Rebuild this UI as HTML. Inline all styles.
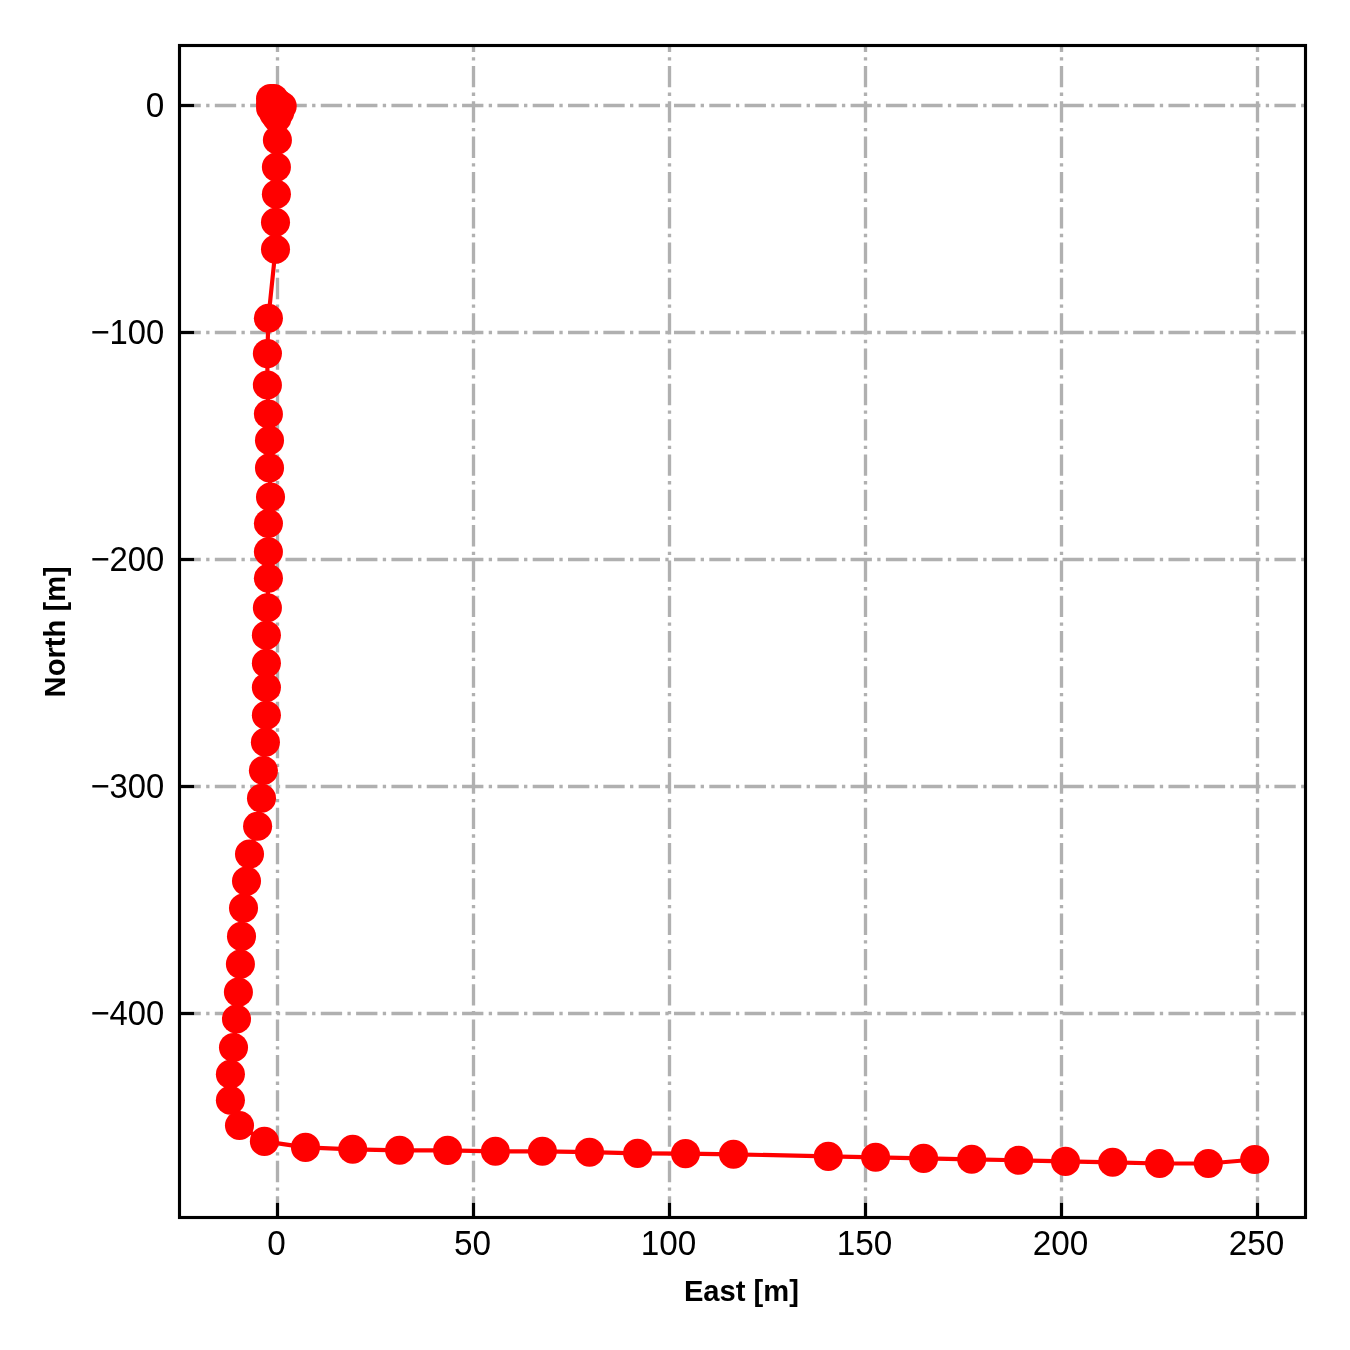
<!DOCTYPE html>
<html lang="en">
<head>
<meta charset="utf-8">
<title>Trajectory East/North</title>
<style>
html,body{margin:0;padding:0;background:#fff;}
body{width:1350px;height:1350px;overflow:hidden;}
svg{display:block;}
svg text{font-family:"Liberation Sans",Arial,sans-serif;fill:#000;}
.tl{font-size:33.33px;}
.al{font-size:29.17px;font-weight:bold;}
</style>
</head>
<body>
<svg width="1350" height="1350" viewBox="0 0 1350 1350">
<rect x="0" y="0" width="1350" height="1350" fill="#ffffff"/>
<g id="grid" stroke="#b0b0b0" stroke-width="3.33" stroke-dasharray="21.33 5.33 3.33 5.33" fill="none">
<line x1="277.5" y1="1217.5" x2="277.5" y2="45.5"/>
<line x1="473.5" y1="1217.5" x2="473.5" y2="45.5"/>
<line x1="669.5" y1="1217.5" x2="669.5" y2="45.5"/>
<line x1="865.5" y1="1217.5" x2="865.5" y2="45.5"/>
<line x1="1061.5" y1="1217.5" x2="1061.5" y2="45.5"/>
<line x1="1257.5" y1="1217.5" x2="1257.5" y2="45.5"/>
<line x1="179.5" y1="105.5" x2="1305.5" y2="105.5"/>
<line x1="179.5" y1="332.5" x2="1305.5" y2="332.5"/>
<line x1="179.5" y1="559.5" x2="1305.5" y2="559.5"/>
<line x1="179.5" y1="786.5" x2="1305.5" y2="786.5"/>
<line x1="179.5" y1="1013.5" x2="1305.5" y2="1013.5"/>
</g>
<g id="ticks" stroke="#000" stroke-width="3.125">
<line x1="277.5" y1="1217.5" x2="277.5" y2="1202.92"/>
<line x1="473.5" y1="1217.5" x2="473.5" y2="1202.92"/>
<line x1="669.5" y1="1217.5" x2="669.5" y2="1202.92"/>
<line x1="865.5" y1="1217.5" x2="865.5" y2="1202.92"/>
<line x1="1061.5" y1="1217.5" x2="1061.5" y2="1202.92"/>
<line x1="1257.5" y1="1217.5" x2="1257.5" y2="1202.92"/>
<line x1="179.5" y1="105.5" x2="194.08" y2="105.5"/>
<line x1="179.5" y1="332.5" x2="194.08" y2="332.5"/>
<line x1="179.5" y1="559.5" x2="194.08" y2="559.5"/>
<line x1="179.5" y1="786.5" x2="194.08" y2="786.5"/>
<line x1="179.5" y1="1013.5" x2="194.08" y2="1013.5"/>
</g>
<g id="series">
<polyline fill="none" stroke="#ff0000" stroke-width="4.17" stroke-linejoin="round" points="282.2,106.0 277.0,102.2 273.8,98.6 270.6,98.5 270.6,103.3 270.6,108.0 273.8,113.5 279.8,112.0 277.0,118.0 277.4,140.0 276.4,167.1 276.4,194.2 275.5,222.3 275.5,249.3 268.4,318.3 267.4,353.6 267.4,385.0 268.4,414.0 269.5,440.4 269.5,467.9 270.5,497.0 268.4,523.5 268.4,551.8 268.4,578.3 267.4,607.8 266.4,635.3 266.4,663.3 266.4,687.5 266.4,715.3 265.4,742.3 263.4,770.5 261.5,798.3 257.6,826.3 249.5,854.1 246.5,881.1 243.5,908.1 241.5,936.4 240.4,964.1 238.4,992.1 236.5,1019.0 233.5,1047.5 230.4,1074.2 230.4,1100.2 239.5,1125.5 264.4,1141.4 305.5,1147.4 352.7,1149.3 399.6,1150.3 447.6,1150.4 495.4,1151.3 542.4,1151.3 589.5,1152.2 637.6,1153.4 685.5,1153.6 733.5,1154.3 828.3,1156.4 875.6,1157.3 923.6,1158.4 971.7,1159.3 1018.7,1160.3 1065.5,1161.4 1112.7,1162.3 1159.6,1163.5 1208.3,1163.5 1254.7,1159.5"/>
<g fill="#ff0000">
<circle cx="282.2" cy="106.0" r="14.55"/>
<circle cx="277.0" cy="102.2" r="14.55"/>
<circle cx="273.8" cy="98.6" r="14.55"/>
<circle cx="270.6" cy="98.5" r="14.55"/>
<circle cx="270.6" cy="103.3" r="14.55"/>
<circle cx="270.6" cy="108.0" r="14.55"/>
<circle cx="273.8" cy="113.5" r="14.55"/>
<circle cx="279.8" cy="112.0" r="14.55"/>
<circle cx="277.0" cy="118.0" r="14.55"/>
<circle cx="277.4" cy="140.0" r="14.55"/>
<circle cx="276.4" cy="167.1" r="14.55"/>
<circle cx="276.4" cy="194.2" r="14.55"/>
<circle cx="275.5" cy="222.3" r="14.55"/>
<circle cx="275.5" cy="249.3" r="14.55"/>
<circle cx="268.4" cy="318.3" r="14.55"/>
<circle cx="267.4" cy="353.6" r="14.55"/>
<circle cx="267.4" cy="385.0" r="14.55"/>
<circle cx="268.4" cy="414.0" r="14.55"/>
<circle cx="269.5" cy="440.4" r="14.55"/>
<circle cx="269.5" cy="467.9" r="14.55"/>
<circle cx="270.5" cy="497.0" r="14.55"/>
<circle cx="268.4" cy="523.5" r="14.55"/>
<circle cx="268.4" cy="551.8" r="14.55"/>
<circle cx="268.4" cy="578.3" r="14.55"/>
<circle cx="267.4" cy="607.8" r="14.55"/>
<circle cx="266.4" cy="635.3" r="14.55"/>
<circle cx="266.4" cy="663.3" r="14.55"/>
<circle cx="266.4" cy="687.5" r="14.55"/>
<circle cx="266.4" cy="715.3" r="14.55"/>
<circle cx="265.4" cy="742.3" r="14.55"/>
<circle cx="263.4" cy="770.5" r="14.55"/>
<circle cx="261.5" cy="798.3" r="14.55"/>
<circle cx="257.6" cy="826.3" r="14.55"/>
<circle cx="249.5" cy="854.1" r="14.55"/>
<circle cx="246.5" cy="881.1" r="14.55"/>
<circle cx="243.5" cy="908.1" r="14.55"/>
<circle cx="241.5" cy="936.4" r="14.55"/>
<circle cx="240.4" cy="964.1" r="14.55"/>
<circle cx="238.4" cy="992.1" r="14.55"/>
<circle cx="236.5" cy="1019.0" r="14.55"/>
<circle cx="233.5" cy="1047.5" r="14.55"/>
<circle cx="230.4" cy="1074.2" r="14.55"/>
<circle cx="230.4" cy="1100.2" r="14.55"/>
<circle cx="239.5" cy="1125.5" r="14.55"/>
<circle cx="264.4" cy="1141.4" r="14.55"/>
<circle cx="305.5" cy="1147.4" r="14.55"/>
<circle cx="352.7" cy="1149.3" r="14.55"/>
<circle cx="399.6" cy="1150.3" r="14.55"/>
<circle cx="447.6" cy="1150.4" r="14.55"/>
<circle cx="495.4" cy="1151.3" r="14.55"/>
<circle cx="542.4" cy="1151.3" r="14.55"/>
<circle cx="589.5" cy="1152.2" r="14.55"/>
<circle cx="637.6" cy="1153.4" r="14.55"/>
<circle cx="685.5" cy="1153.6" r="14.55"/>
<circle cx="733.5" cy="1154.3" r="14.55"/>
<circle cx="828.3" cy="1156.4" r="14.55"/>
<circle cx="875.6" cy="1157.3" r="14.55"/>
<circle cx="923.6" cy="1158.4" r="14.55"/>
<circle cx="971.7" cy="1159.3" r="14.55"/>
<circle cx="1018.7" cy="1160.3" r="14.55"/>
<circle cx="1065.5" cy="1161.4" r="14.55"/>
<circle cx="1112.7" cy="1162.3" r="14.55"/>
<circle cx="1159.6" cy="1163.5" r="14.55"/>
<circle cx="1208.3" cy="1163.5" r="14.55"/>
<circle cx="1254.7" cy="1159.5" r="14.55"/>
</g>
</g>
<rect x="179.5" y="45.5" width="1126.0" height="1172.0" fill="none" stroke="#000" stroke-width="3.125"/>
<g class="tl" text-anchor="middle">
<text transform="translate(276.6,1254.9) scale(1,1.05)">0</text>
<text transform="translate(472.6,1254.9) scale(1,1.05)">50</text>
<text transform="translate(668.6,1254.9) scale(1,1.05)">100</text>
<text transform="translate(864.6,1254.9) scale(1,1.05)">150</text>
<text transform="translate(1060.6,1254.9) scale(1,1.05)">200</text>
<text transform="translate(1256.6,1254.9) scale(1,1.05)">250</text>
</g>
<g class="tl" text-anchor="end">
<text transform="translate(164.3,116.8) scale(1,1.045)">0</text>
<text transform="translate(164.3,343.8) scale(0.985,1.045)">−100</text>
<text transform="translate(164.3,570.8) scale(0.985,1.045)">−200</text>
<text transform="translate(164.3,797.8) scale(0.985,1.045)">−300</text>
<text transform="translate(164.3,1024.8) scale(0.985,1.045)">−400</text>
</g>
<text class="al" text-anchor="middle" x="741.4" y="1300.6">East [m]</text>
<text class="al" text-anchor="middle" transform="translate(65,631.8) rotate(-90)">North [m]</text>
</svg>
</body>
</html>
